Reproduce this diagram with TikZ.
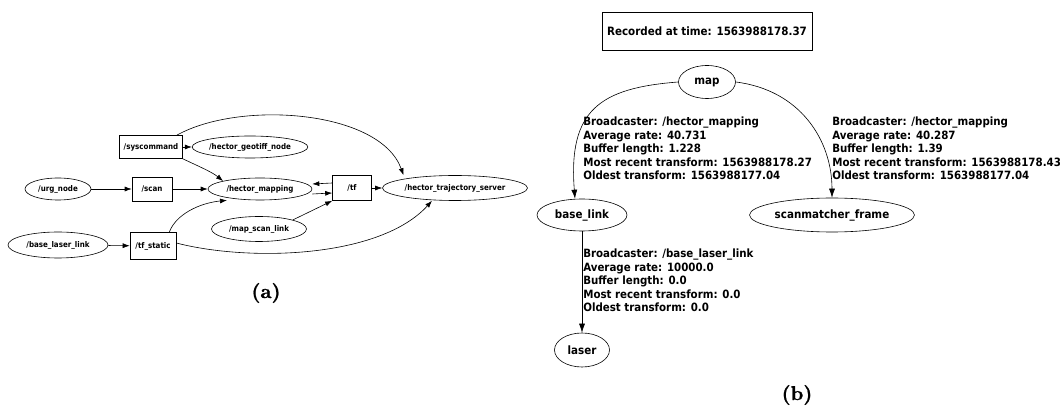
\documentclass[tikz,border=0pt]{standalone}
\usepackage{fontspec}
\usetikzlibrary{shapes.geometric,arrows.meta}
\newfontfamily\graphfont{DejaVu Sans Condensed}
\newfontfamily\capfont{lmroman10-bold.otf}[FakeBold=1]

\tikzset{
  rosbox/.style={draw, rectangle, inner sep=0pt, font=\graphfont\bfseries\fontsize{7.9}{9}\selectfont},
  rosnode/.style={draw, ellipse, inner sep=0pt, font=\graphfont\bfseries\fontsize{7.9}{9}\selectfont},
  tfnode/.style={draw, ellipse, inner sep=0pt, font=\graphfont\bfseries\fontsize{11.5}{13}\selectfont},
  tflbl/.style={anchor=north west, inner sep=0pt, align=left, font=\graphfont\bfseries\fontsize{11.4}{13.5}\selectfont},
  caption/.style={font=\capfont\fontsize{20}{24}\selectfont}
}

\begin{document}
\begin{tikzpicture}[x=1pt, y=-1pt, >={Latex[length=7pt,width=5pt]}, line width=.6pt]
\useasboundingbox (0,0) rectangle (1060,411);

% (a) node graph
\node[rosbox, minimum width=63pt, minimum height=23pt] (syscmd) at (151,147) {/syscommand};
\node[rosnode, minimum width=103pt, minimum height=22pt] (geotiff) at (250,147) {/hector\_geotiff\_node};
\node[rosnode, minimum width=66pt, minimum height=22pt] (urg) at (58,189) {/urg\_node};
\node[rosbox, minimum width=40pt, minimum height=24pt] (scan) at (152,189) {/scan};
\node[rosnode, minimum width=104pt, minimum height=22pt] (mapping) at (260,189) {/hector\_mapping};
\node[rosbox, minimum width=39pt, minimum height=25pt] (tf) at (352,188) {/tf};
\node[rosnode, minimum width=145pt, minimum height=25pt] (traj) at (455,188) {/hector\_trajectory\_server};
\node[rosnode, minimum width=95pt, minimum height=25pt] (msl) at (259,229) {/map\_scan\_link};
\node[rosnode, minimum width=100pt, minimum height=26pt] (bll) at (58,245) {/base\_laser\_link};
\node[rosbox, minimum width=46pt, minimum height=27pt] (tfs) at (153,246) {/tf\_static};

\draw[->] (syscmd) -- (geotiff);
\draw[->] (syscmd.south east) .. controls (198,166) and (212,172) .. (mapping.north west);
\draw[->] ([xshift=-6pt]syscmd.north east) .. controls (240,100) and (380,110) .. (traj.north west|-traj.north);
\draw[->] (urg) -- (scan);
\draw[->] (scan) -- (mapping);
\draw[->] (bll) -- (tfs);
\draw[->] ([xshift=-7pt]tfs.north east) .. controls (176,214) and (200,203) .. ([xshift=-33pt]mapping.south);
\draw[->] ([yshift=3pt]tfs.east) .. controls (250,262) and (380,258) .. ([xshift=-23pt]traj.south);
\draw[->] ([yshift=5pt]tf.west) -- ([yshift=5pt]mapping.east);
\draw[->] ([yshift=-5pt]mapping.east) -- ([yshift=-5pt]tf.west);
\draw[->] (msl.north east) -- (tf.south west);
\draw[->] (tf) -- (traj);
\node[caption] (capa) at (266,293) {(a)};

% (b) tf tree
\node[draw, inner sep=0pt, minimum width=210pt, minimum height=38pt, font=\graphfont\bfseries\fontsize{11.5}{13}\selectfont] (rec) at (707,31) {Recorded at time: 1563988178.37};
\node[tfnode, minimum width=57pt, minimum height=33pt] (map) at (707,82) {map};
\node[tfnode, minimum width=90pt, minimum height=32pt] (base) at (582,215) {base\_link};
\node[tfnode, minimum width=165pt, minimum height=34pt] (scanm) at (832,215) {scanmatcher\_frame};
\node[tfnode, minimum width=55pt, minimum height=34pt] (laser) at (582,350) {laser};

\draw[-{Latex[length=9pt,width=6pt]}] (map.west) .. controls (600,88) and (568,110) .. ([xshift=-7pt]base.north);
\draw[-{Latex[length=9pt,width=6pt]}] (map.east) .. controls (800,90) and (832,140) .. (scanm.north);
\draw[-{Latex[length=9pt,width=6pt]}] (base) -- (laser);

\node[tflbl] (lblmap) at (583,117) {Broadcaster: /hector\_mapping\\Average rate: 40.731\\Buffer length: 1.228\\Most recent transform: 1563988178.27\\Oldest transform: 1563988177.04};
\node[tflbl] (lblscan) at (832,117) {Broadcaster: /hector\_mapping\\Average rate: 40.287\\Buffer length: 1.39\\Most recent transform: 1563988178.43\\Oldest transform: 1563988177.04};
\node[tflbl] (lbllaser) at (583,249) {Broadcaster: /base\_laser\_link\\Average rate: 10000.0\\Buffer length: 0.0\\Most recent transform: 0.0\\Oldest transform: 0.0};
\node[caption] (capb) at (797,395) {(b)};
\end{tikzpicture}
\end{document}
